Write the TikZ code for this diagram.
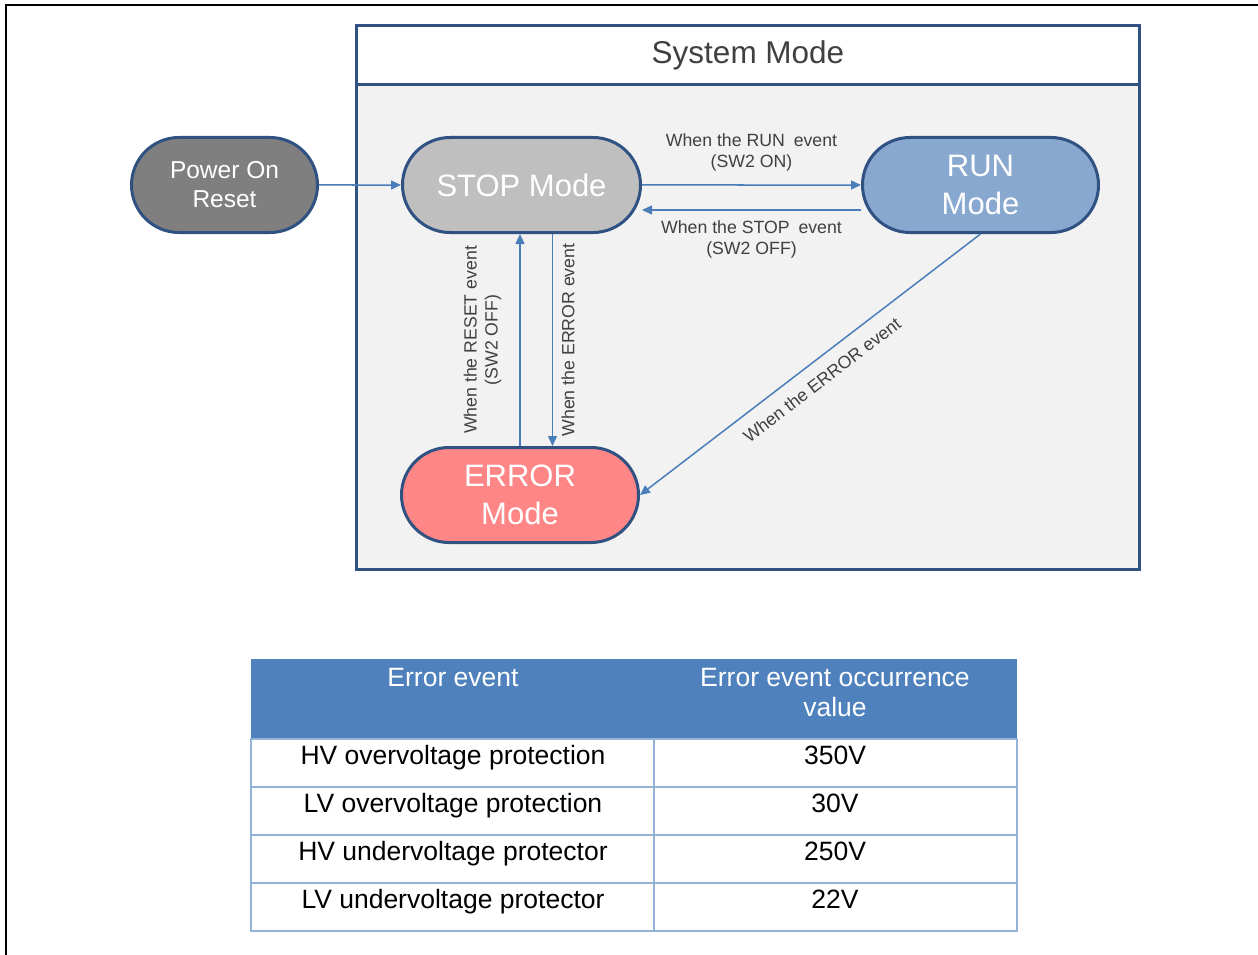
\documentclass[tikz,border=0pt]{standalone}
\usepackage{fontspec}
\setmainfont{Liberation Sans}
\usepackage{xcolor}
\usepackage{tikz}
\usetikzlibrary{shapes.misc,arrows.meta,positioning,calc}
\definecolor{edgeblue}{RGB}{47,82,130}
\definecolor{linkblue}{RGB}{74,126,187}
\definecolor{panelgray}{RGB}{242,242,242}
\definecolor{textgray}{RGB}{64,64,64}
\definecolor{resetgray}{RGB}{127,127,127}
\definecolor{stopgray}{RGB}{191,191,191}
\definecolor{runblue}{RGB}{136,168,208}
\definecolor{errorred}{RGB}{255,134,134}
\definecolor{headblue}{RGB}{79,129,189}
\definecolor{gridblue}{RGB}{149,179,215}

\begin{document}
\begin{tikzpicture}[
    x=1pt, y=-1pt,
    mode/.style={rounded rectangle, draw=edgeblue, line width=3pt, minimum height=95pt, inner sep=0pt, text=white, align=center, font=\fontsize{31}{38}\selectfont},
    link/.style={draw=linkblue, line width=1.5pt, -{Triangle[length=10pt,width=9pt]}},
    evt/.style={font=\fontsize{17.7}{21}\selectfont, text=textgray, align=center, inner sep=2pt},
    cell/.style={font=\fontsize{26.5}{30}\selectfont, anchor=base, inner sep=0pt},
]
    \useasboundingbox (0,0) rectangle (1258,955);

    % Page frame
    \draw[line width=2pt] (1258,5) -- (6,5) -- (6,955);

    % System mode panel
    \node[draw=edgeblue, line width=3pt, fill=white, minimum width=783pt, minimum height=59pt, anchor=north west, inner sep=0pt,
          font=\fontsize{31.5}{38}\selectfont, text=textgray] (systitle) at (355,24) {System Mode};
    \node[draw=edgeblue, line width=3pt, fill=panelgray, minimum width=783pt, minimum height=485pt, anchor=north west, inner sep=0pt] (sysbody) at (355,83) {};

    % Modes
    \node[mode, fill=resetgray, minimum width=186pt, font=\fontsize{24.5}{29}\selectfont] (power) at (224.5,185) {Power On\\Reset};
    \node[mode, fill=stopgray, minimum width=238pt] (stop) at (521.5,185) {STOP Mode};
    \node[mode, fill=runblue, minimum width=236pt] (run) at (980.5,185) {RUN\\Mode};
    \node[mode, fill=errorred, minimum width=237pt] (error) at (520,495) {ERROR\\Mode};

    % Transitions
    \draw[link] (power) -- (stop);
    \draw[link] (stop) -- node[evt, above=11pt] {When the RUN\enspace event\\(SW2 ON)} (run);
    \draw[link] ([yshift=-25pt]run.west) -- node[evt, below=8pt] {When the STOP\enspace event\\(SW2 OFF)} ([yshift=-25pt]stop.east);
    \draw[link] (error.north) -- node[evt, sloped, above=16pt] {When the RESET event\\(SW2 OFF)} (error.north |- stop.south);
    \draw[link] ([xshift=31pt]stop.south) -- node[evt, rotate=90, anchor=north, outer sep=7pt] {When the ERROR event} ([xshift=31pt]stop.south |- error.north);
    \draw[link] (run.south) -- node[evt, sloped, below=10pt] {When the ERROR event} (error.east);

    % Error table
    \fill[headblue] (251,659) rectangle (1017,739);
    \draw[gridblue, line width=2pt] (251,739) rectangle (1017,931);
    \foreach \y in {787,835,883}
        \draw[gridblue, line width=2pt] (251,\y) -- (1017,\y);
    \draw[gridblue, line width=2pt] (654,739) -- (654,931);

    \node[cell, text=white] (hdevent) at (453,686) {Error event};
    \node[cell, text=white, align=center] (hdvalue) at (835,716) {Error event occurrence\\value};

    \foreach \name/\val [count=\n] in {HV overvoltage protection/350V, LV overvoltage protection/30V,
                                        HV undervoltage protector/250V, LV undervoltage protector/22V} {
        \node[cell] (err\n) at (453,{716+48*\n}) {\name};
        \node[cell] (lim\n) at (835,{716+48*\n}) {\val};
    }
\end{tikzpicture}
\end{document}
